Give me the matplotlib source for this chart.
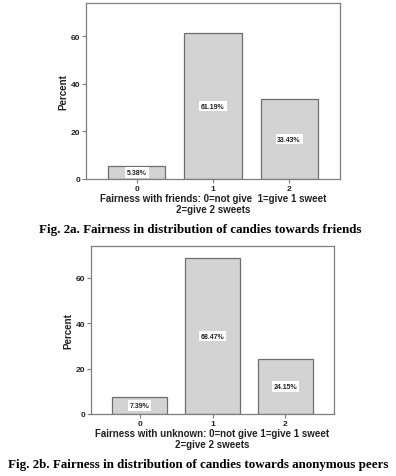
import matplotlib
matplotlib.use("Agg")
import matplotlib.pyplot as plt

categories = ["0", "1", "2"]
friends_pct = [5.38, 61.19, 33.43]
unknown_pct = [7.39, 68.47, 24.15]
yticks = [0, 20, 40, 60]
xlabel_a = "Fairness with friends: 0=not give  1=give 1 sweet\n2=give 2 sweets"
xlabel_b = "Fairness with unknown: 0=not give 1=give 1 sweet\n2=give 2 sweets"
caption_a = "Fig. 2a. Fairness in distribution of candies towards friends"
caption_b = "Fig. 2b. Fairness in distribution of candies towards anonymous peers"

W, H = 396, 477
fig = plt.figure(figsize=(W / 100, H / 100), dpi=100)
fig.patch.set_facecolor("white")

frame_col = "#7f7f7f"
bar_col = "#d3d3d3"
edge_col = "#6e6e6e"
sans = ["Liberation Sans", "DejaVu Sans"]
serif = ["Liberation Serif", "DejaVu Serif"]


def draw(ax, values, xlabel):
    x = list(range(len(categories)))
    bars = ax.bar(x, values, width=0.75, color=bar_col, edgecolor=edge_col, linewidth=0.9)
    for b, v in zip(bars, values):
        ax.text(b.get_x() + b.get_width() / 2, v / 2, f"{v:.2f}%", ha="center", va="center",
                fontsize=5, fontweight="bold", family=sans, color="#222222",
                bbox=dict(boxstyle="square,pad=0.25", fc="white", ec="none"))
    ax.set_xlim(-0.67, 2.67)
    ax.set_ylim(0, 74)
    ax.set_xticks(x)
    ax.set_xticklabels(categories)
    ax.set_yticks(yticks)
    for s in ax.spines.values():
        s.set_color(frame_col)
        s.set_linewidth(0.9)
    ax.tick_params(axis="both", colors=frame_col, labelcolor="#222222", length=3, width=0.8,
                   labelsize=6, pad=1)
    for lab in ax.get_xticklabels() + ax.get_yticklabels():
        lab.set_fontweight("bold")
        lab.set_family(sans)
    ax.set_ylabel("Percent", fontsize=7, fontweight="bold", family=sans, color="#222222", labelpad=2)
    ax.set_xlabel(xlabel, fontsize=7, fontweight="bold", family=sans, color="#222222",
                  labelpad=1, linespacing=1.15)


ax1 = fig.add_axes([86 / W, 1 - 180 / H, (340 - 86) / W, (180 - 4) / H])
draw(ax1, friends_pct, xlabel_a)
ax2 = fig.add_axes([91 / W, 1 - 415 / H, (334 - 91) / W, (415 - 246.7) / H])
draw(ax2, unknown_pct, xlabel_b)

fig.text(200 / W, 1 - 230 / H, caption_a, ha="center", va="center", fontsize=9.4,
         fontweight="bold", family=serif)
fig.text(198.5 / W, 1 - 465 / H, caption_b, ha="center", va="center", fontsize=9.4,
         fontweight="bold", family=serif)

fig.savefig("out.png", dpi=100)
